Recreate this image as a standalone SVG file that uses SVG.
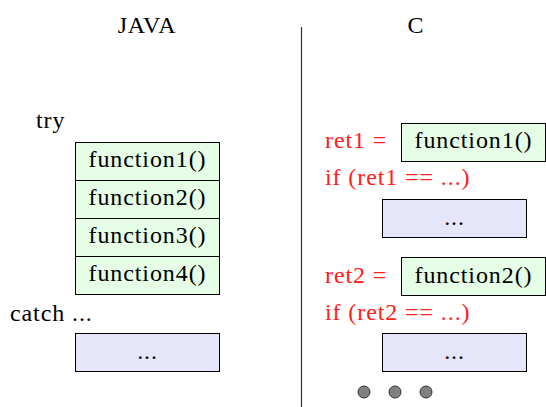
<svg xmlns="http://www.w3.org/2000/svg" width="546" height="407" viewBox="0 0 546 407">
<style>
.t{font-family:'Liberation Serif','Times New Roman',serif;font-size:24px;letter-spacing:0.9px;fill:#000}
.g{fill:#e6fde6;stroke:#000;stroke-width:1}
.b{fill:#e6e6fb;stroke:#000;stroke-width:1}
.c{text-anchor:middle}
.red{fill:#ff2020}
</style>
<rect width="546" height="407" fill="#fff"/>
<g class="t">
<g id="headers">
<text class="c" x="147" y="33">JAVA</text>
<text class="c" x="416" y="33">C</text>
</g>
<g id="connectors">
<line x1="301.5" y1="27" x2="301.5" y2="407" stroke="#333" stroke-width="1.2"/>
</g>
<g id="java">
<text x="36" y="128">try</text>
<g id="j-f1"><rect class="g" x="75.5" y="142.5" width="144" height="38"/><text class="c" x="147.5" y="167">function1()</text></g>
<g id="j-f2"><rect class="g" x="75.5" y="180.5" width="144" height="38"/><text class="c" x="147.5" y="205">function2()</text></g>
<g id="j-f3"><rect class="g" x="75.5" y="218.5" width="144" height="38"/><text class="c" x="147.5" y="243">function3()</text></g>
<g id="j-f4"><rect class="g" x="75.5" y="256.5" width="144" height="38"/><text class="c" x="147.5" y="281">function4()</text></g>
<text x="10" y="321">catch ...</text>
<g id="j-catch"><rect class="b" x="75.5" y="333.5" width="144" height="38"/><text class="c" x="147.5" y="359">...</text></g>
</g>
<g id="c">
<text class="red" x="325" y="148">ret1 =</text>
<g id="c-f1"><rect class="g" x="401.5" y="123.5" width="144" height="38"/><text class="c" x="473.5" y="148">function1()</text></g>
<text class="red" x="325" y="185">if (ret1 == ...)</text>
<g id="c-b1"><rect class="b" x="382.5" y="199.5" width="144" height="38"/><text class="c" x="454.5" y="225">...</text></g>
<text class="red" x="325" y="283">ret2 =</text>
<g id="c-f2"><rect class="g" x="401.5" y="257.5" width="144" height="38"/><text class="c" x="473.5" y="283">function2()</text></g>
<text class="red" x="325" y="320">if (ret2 == ...)</text>
<g id="c-b2"><rect class="b" x="382.5" y="333.5" width="144" height="38"/><text class="c" x="454.5" y="359">...</text></g>
<g id="dots" fill="#808080" stroke="#333" stroke-width="1">
<circle cx="364" cy="392" r="6"/>
<circle cx="395" cy="392" r="6"/>
<circle cx="426" cy="392" r="6"/>
</g>
</g>
</g>
</svg>
